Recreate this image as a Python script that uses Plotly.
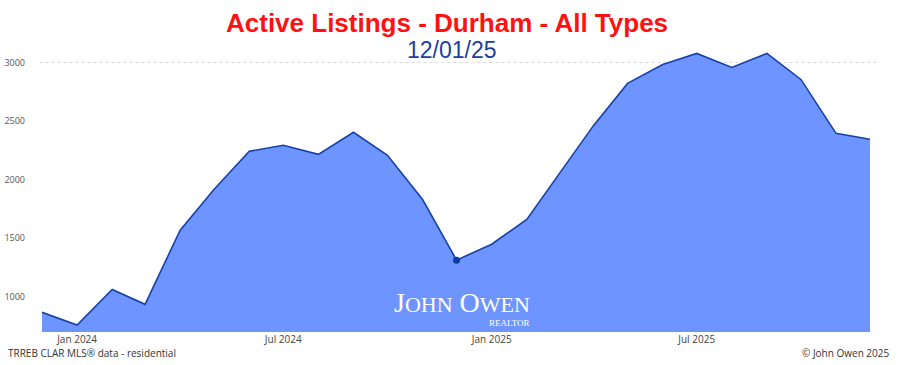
import plotly.graph_objects as go
import pandas as pd

months = pd.date_range("2023-12-01", "2025-12-01", freq="MS").strftime("%Y-%m-%d").tolist()
active_listings = [868, 759, 1063, 936, 1569, 1918, 2242, 2293, 2216, 2404, 2208, 1830,
                   1313, 1449, 1660, 2046, 2463, 2821, 2983, 3077, 2957, 3077, 2855, 2395, 2344]
highlight_index = 12

title_text = "Active Listings - Durham - All Types"
subtitle_text = "12/01/25"
source_text = "TRREB CLAR MLS® data - residential"
copyright_text = "© John Owen 2025"

fig = go.Figure()
fig.add_trace(go.Scatter(
    x=months, y=active_listings, mode="lines",
    line=dict(color="#1641a6", width=1.6),
    fill="tozeroy", fillcolor="rgb(110,148,255)",
    hoverinfo="skip", showlegend=False,
))
fig.add_trace(go.Scatter(
    x=[months[highlight_index]], y=[active_listings[highlight_index]], mode="markers",
    marker=dict(color="#0b3aa6", size=7),
    showlegend=False, hoverinfo="skip",
))

fig.add_shape(type="line", xref="paper", yref="y", x0=-0.003, x1=1.01, y0=3000, y1=3000,
              line=dict(color="#d8d8d8", width=1, dash="dot"), layer="below")

fig.update_layout(
    width=898, height=365,
    margin=dict(l=42, r=28, t=39, b=33, autoexpand=False),
    paper_bgcolor="white", plot_bgcolor="white",
    font=dict(family="Open Sans, sans-serif"),
    xaxis=dict(
        range=[months[0], months[-1]], showgrid=False, zeroline=False, showline=False,
        tickformat="%b %Y", dtick="M6", tick0="2024-01-01", automargin=False,
        tickfont=dict(size=10, color="#444444"), ticks="",
    ),
    yaxis=dict(
        range=[700, 3200], showgrid=False, zeroline=False, showline=False,
        tickvals=[1000, 1500, 2000, 2500, 3000], ticks="", automargin=False,
        tickfont=dict(size=9, color="#555555"), ticklabelstandoff=16,
    ),
    annotations=[
        dict(text="<b>" + title_text + "</b>", xref="paper", yref="paper", x=0.4894, y=1, yshift=-1,
             xanchor="center", yanchor="bottom", showarrow=False,
             font=dict(family="Liberation Sans, Arial, sans-serif", size=26, color="#ff1111")),
        dict(text=subtitle_text, xref="paper", yref="paper", x=0.495, y=1, yshift=-26,
             xanchor="center", yanchor="bottom", showarrow=False,
             font=dict(family="Liberation Sans, Arial, sans-serif", size=23, color="#1a3f9e")),
        dict(text="J<span style='font-size:22px'>OHN</span> O<span style='font-size:22px'>WEN</span>",
             xref="paper", yref="paper", x=0.507, y=0, yshift=12,
             xanchor="center", yanchor="bottom", showarrow=False,
             font=dict(family="Liberation Serif, serif", size=28, color="white")),
        dict(text="REALTOR", xref="paper", yref="paper", x=0.592, y=0, yshift=2,
             xanchor="right", yanchor="bottom", showarrow=False,
             font=dict(family="Liberation Serif, serif", size=9, color="white")),
        dict(text=source_text, xref="paper", yref="paper", x=0, xshift=-36, y=0, yshift=-30,
             xanchor="left", yanchor="bottom", showarrow=False,
             font=dict(family="Open Sans, DejaVu Sans, sans-serif", size=10, color="#333333")),
        dict(text=copyright_text, xref="paper", yref="paper", x=1, xshift=22, y=0, yshift=-30,
             xanchor="right", yanchor="bottom", showarrow=False,
             font=dict(family="Open Sans, DejaVu Sans, sans-serif", size=10, color="#333333")),
    ],
)

fig.write_html("out.html")
